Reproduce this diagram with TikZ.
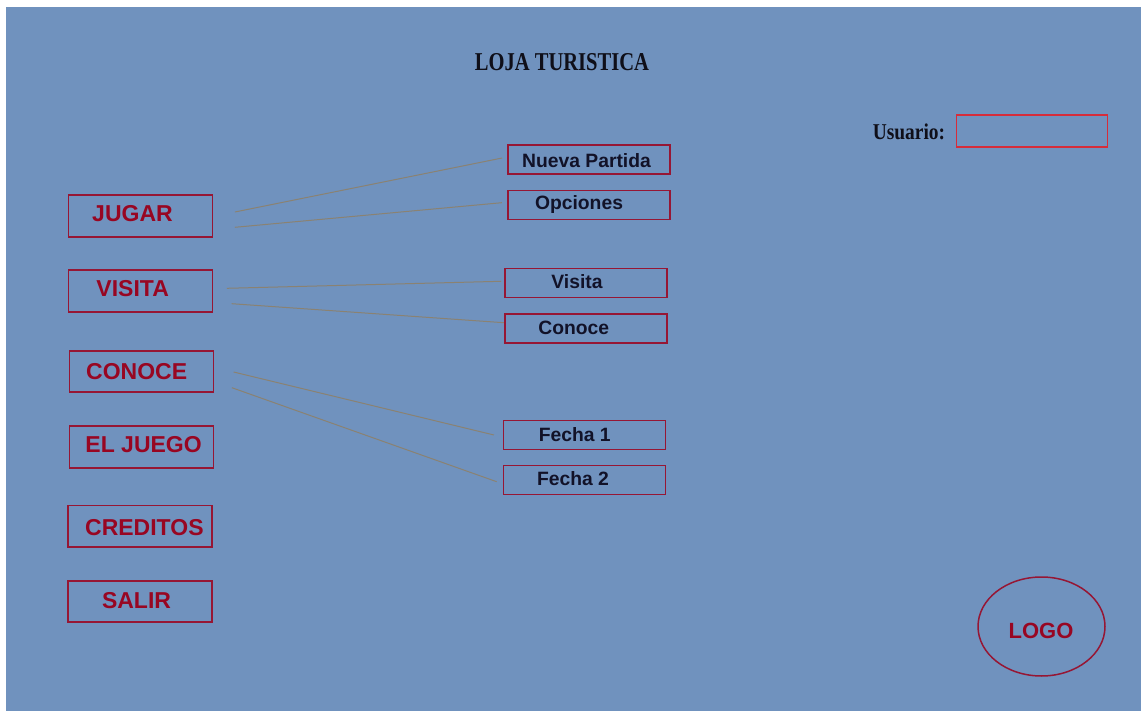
\documentclass[tikz,border=0pt]{standalone}
\usepackage{fontspec}
\setmainfont{Liberation Sans}
\newfontfamily\titlefont[FakeStretch=0.8]{Liberation Serif}
\newfontfamily\userfont[FakeStretch=0.86]{Liberation Serif}
\usetikzlibrary{shapes.geometric,calc}
\definecolor{panel}{RGB}{112,146,190}
\definecolor{menuline}{RGB}{150,22,52}
\definecolor{menutext}{RGB}{152,6,34}
\definecolor{subtext}{RGB}{18,18,40}
\definecolor{wirecol}{RGB}{138,130,114}
\definecolor{fieldline}{RGB}{214,44,58}
\definecolor{inktext}{RGB}{15,15,25}
\begin{document}
\begin{tikzpicture}[x=1pt,y=-1pt,
  menubox/.style={draw=menuline, line width=1.8pt, minimum width=144pt, minimum height=41.5pt, inner sep=0pt},
  subbox/.style={draw=menuline, line width=1.7pt, minimum width=162pt, minimum height=29pt, inner sep=0pt},
  menutxt/.style={anchor=base, inner sep=0pt, text=menutext, font=\fontsize{23}{23}\selectfont\bfseries},
  subtxt/.style={anchor=base, inner sep=0pt, text=subtext, font=\fontsize{19.3}{19.3}\selectfont\bfseries},
  link/.style={draw=wirecol, line width=1pt}]

\useasboundingbox (0,0) rectangle (1141,711);
\fill[white] (0,0) rectangle (1141,711);
\fill[panel] (6,7) rectangle (1141,711);

% heading
\node[anchor=base, inner sep=0pt, text=inktext, font=\titlefont\fontsize{25.7}{26}\selectfont\bfseries] (titulo) at (562,70.7) {LOJA TURISTICA};

% user field
\node[anchor=base, inner sep=0pt, text=inktext, font=\userfont\fontsize{22.6}{23}\selectfont\bfseries] (usuario) at (909,140) {Usuario:};
\node[draw=fieldline, line width=1.4pt, minimum width=151pt, minimum height=32pt, inner sep=0pt] (campo) at (1032,131) {};

% main menu
\node[menubox] (jugar) at (140.5,216) {};
\node[menutxt] (jugar-t) at (132.5,222) {JUGAR};
\node[menubox] (visita) at (140.5,291) {};
\node[menutxt] (visita-t) at (132.7,297) {VISITA};
\node[menubox] (conoce) at (141.5,371.5) {};
\node[menutxt] (conoce-t) at (136.7,380) {CONOCE};
\node[menubox] (juego) at (141.5,447) {};
\node[menutxt] (juego-t) at (143.6,452) {EL JUEGO};
\node[menubox] (creditos) at (140.3,526.3) {};
\node[menutxt] (creditos-t) at (144.4,535) {CREDITOS};
\node[menubox] (salir) at (140.3,601.5) {};
\node[menutxt] (salir-t) at (136.5,608) {SALIR};

% sub menus
\node[subbox] (nueva) at (589,159.5) {};
\node[subtxt] (nueva-t) at (586.5,167.3) {Nueva Partida};
\node[subbox] (opciones) at (589,205) {};
\node[subtxt] (opciones-t) at (579,210) {Opciones};
\node[subbox] (subvisita) at (586,283) {};
\node[subtxt] (subvisita-t) at (577,289) {Visita};
\node[subbox] (subconoce) at (586,328.5) {};
\node[subtxt] (subconoce-t) at (573.7,335) {Conoce};
\node[subbox] (fecha1) at (584.5,435) {};
\node[subtxt] (fecha1-t) at (574.7,441) {Fecha 1};
\node[subbox] (fecha2) at (584.5,480) {};
\node[subtxt] (fecha2-t) at (573,485.7) {Fecha 2};

% connectors
\draw[link] ($(jugar.east)+(21.5,-4)$) -- ($(nueva.west)+(-5,-1.5)$);
\draw[link] ($(jugar.east)+(21.5,11.3)$) -- ($(opciones.west)+(-5.3,-2.3)$);
\draw[link] ($(visita.east)+(13.5,-2.7)$) -- ($(subvisita.west)+(-3,-1.7)$);
\draw[link] ($(visita.east)+(18.2,12.7)$) -- ($(subconoce.west)+(-0.3,-5.8)$);
\draw[link] ($(conoce.east)+(19.2,0.5)$) -- ($(fecha1.west)+(-8.7,0)$);
\draw[link] ($(conoce.east)+(17.5,16.2)$) -- ($(fecha2.west)+(-6,1.7)$);

% logo
\node[ellipse, draw=menuline, line width=1.5pt, minimum width=127pt, minimum height=99pt, inner sep=0pt] (logo) at (1041.5,626.5) {};
\node[menutxt, font=\fontsize{22}{22}\selectfont\bfseries] (logo-t) at (1041,638) {LOGO};
\end{tikzpicture}
\end{document}
